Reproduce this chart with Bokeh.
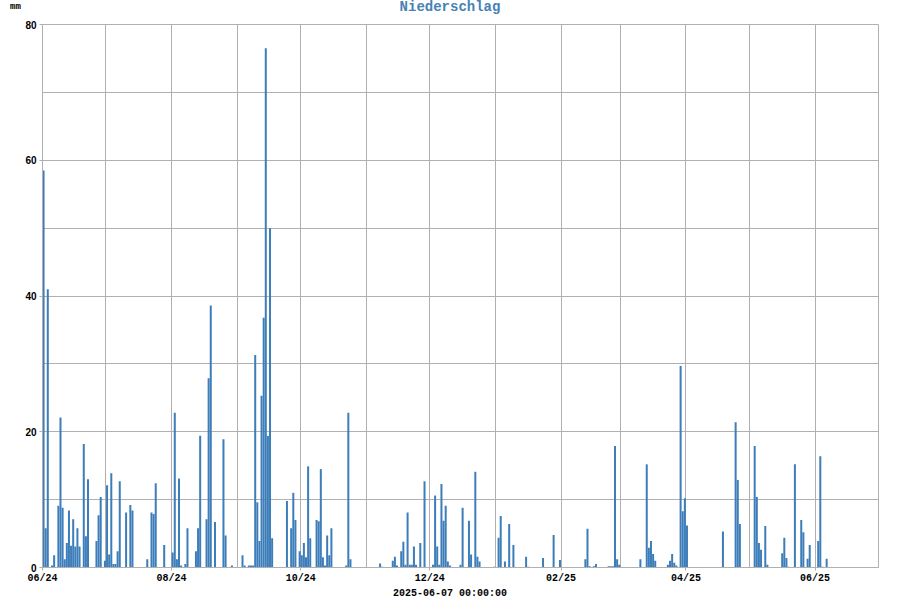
import pandas as pd
from bokeh.plotting import figure
from bokeh.layouts import column
from bokeh.models import FixedTicker, ColumnDataSource, DatetimeTickFormatter, Range1d, Div
from bokeh.embed import file_html
from bokeh.resources import INLINE

# ---- data (daily precipitation, mm) ----
dates = [
    "2024-06-01", "2024-06-02", "2024-06-03", "2024-06-05", "2024-06-06", "2024-06-08", "2024-06-09",
    "2024-06-10", "2024-06-11", "2024-06-12", "2024-06-13", "2024-06-14", "2024-06-15", "2024-06-16",
    "2024-06-17", "2024-06-18", "2024-06-20", "2024-06-21", "2024-06-22", "2024-06-26", "2024-06-27",
    "2024-06-28", "2024-06-30", "2024-07-01", "2024-07-02", "2024-07-03", "2024-07-04", "2024-07-05",
    "2024-07-06", "2024-07-07", "2024-07-10", "2024-07-12", "2024-07-13", "2024-07-20", "2024-07-22",
    "2024-07-23", "2024-07-24", "2024-07-28", "2024-08-01", "2024-08-02", "2024-08-03", "2024-08-04",
    "2024-08-05", "2024-08-07", "2024-08-08", "2024-08-12", "2024-08-13", "2024-08-14", "2024-08-17",
    "2024-08-18", "2024-08-19", "2024-08-21", "2024-08-25", "2024-08-26", "2024-08-29", "2024-09-03",
    "2024-09-04", "2024-09-06", "2024-09-07", "2024-09-08", "2024-09-09", "2024-09-10", "2024-09-11",
    "2024-09-12", "2024-09-13", "2024-09-14", "2024-09-15", "2024-09-16", "2024-09-17", "2024-09-24",
    "2024-09-26", "2024-09-27", "2024-09-28", "2024-09-30", "2024-10-01", "2024-10-02", "2024-10-03",
    "2024-10-04", "2024-10-05", "2024-10-08", "2024-10-09", "2024-10-10", "2024-10-11", "2024-10-12",
    "2024-10-13", "2024-10-14", "2024-10-15", "2024-10-22", "2024-10-23", "2024-10-24", "2024-11-07",
    "2024-11-08", "2024-11-13", "2024-11-14", "2024-11-15", "2024-11-17", "2024-11-18", "2024-11-19",
    "2024-11-20", "2024-11-21", "2024-11-22", "2024-11-23", "2024-11-24", "2024-11-26", "2024-11-28",
    "2024-12-02", "2024-12-03", "2024-12-04", "2024-12-05", "2024-12-06", "2024-12-07", "2024-12-08",
    "2024-12-09", "2024-12-10", "2024-12-15", "2024-12-16", "2024-12-19", "2024-12-20", "2024-12-22",
    "2024-12-23", "2024-12-24", "2024-12-31", "2025-01-02", "2025-01-03", "2025-01-05", "2025-01-07",
    "2025-01-09", "2025-01-15", "2025-01-16", "2025-01-23", "2025-01-28", "2025-01-31", "2025-02-12",
    "2025-02-13", "2025-02-14", "2025-02-16", "2025-02-17", "2025-02-23", "2025-02-24", "2025-02-25",
    "2025-02-26", "2025-02-27", "2025-02-28", "2025-03-10", "2025-03-13", "2025-03-14", "2025-03-15",
    "2025-03-16", "2025-03-17", "2025-03-23", "2025-03-24", "2025-03-25", "2025-03-26", "2025-03-27",
    "2025-03-29", "2025-03-30", "2025-03-31", "2025-04-01", "2025-04-18", "2025-04-24", "2025-04-25",
    "2025-04-26", "2025-05-03", "2025-05-04", "2025-05-05", "2025-05-06", "2025-05-08", "2025-05-09",
    "2025-05-16", "2025-05-17", "2025-05-18", "2025-05-19", "2025-05-22", "2025-05-25", "2025-05-26",
    "2025-05-28", "2025-05-29", "2025-06-02", "2025-06-03", "2025-06-04", "2025-06-06",
]
rain_mm = [
    58.5, 5.8, 41.0, 0.3, 1.8, 9.1, 22.1,
    8.8, 1.2, 3.6, 8.4, 3.2, 7.1, 3.1,
    5.8, 3.1, 18.2, 4.6, 13.0, 3.9, 7.7,
    10.4, 1.0, 12.1, 1.9, 13.9, 0.5, 0.5,
    2.4, 12.7, 8.1, 9.2, 8.4, 1.2, 8.1,
    7.9, 12.4, 3.3, 2.2, 22.8, 1.2, 13.1,
    0.3, 0.5, 5.8, 2.4, 5.8, 19.4, 7.1,
    27.9, 38.6, 6.7, 18.9, 4.7, 0.3, 1.8,
    0.3, 0.3, 0.3, 0.3, 31.3, 9.6, 3.9,
    25.3, 36.8, 76.5, 19.4, 50.0, 4.3, 9.8,
    5.8, 11.0, 7.0, 2.4, 1.8, 3.6, 1.5,
    14.9, 4.3, 7.0, 6.8, 14.5, 1.5, 0.3,
    4.7, 1.8, 5.8, 0.3, 22.8, 1.2, 0.6,
    0.1, 1.0, 1.6, 0.3, 2.4, 3.8, 0.4,
    8.1, 0.4, 0.4, 3.1, 0.4, 3.6, 12.7,
    0.4, 10.6, 3.1, 0.4, 12.3, 6.9, 9.1,
    0.9, 0.3, 0.4, 8.8, 6.9, 1.9, 14.1,
    1.6, 0.9, 0.1, 4.4, 7.6, 0.9, 6.4,
    3.3, 1.6, 0.1, 1.4, 4.8, 1.1, 1.2,
    5.7, 0.2, 0.2, 0.5, 0.2, 0.2, 0.2,
    17.9, 1.2, 0.4, 1.2, 15.2, 2.9, 3.9,
    2.0, 1.0, 0.4, 1.0, 2.0, 0.7, 0.3,
    29.7, 8.3, 10.2, 6.2, 5.3, 21.4, 12.9,
    6.4, 17.9, 10.4, 3.6, 2.6, 6.1, 0.4,
    2.1, 4.4, 1.4, 0.1, 15.2, 7.0, 5.2,
    1.3, 3.3, 3.9, 16.4, 0.1, 1.3,
]
y_ticks = [0, 20, 40, 60, 80]
y_grid = [10, 20, 30, 40, 50, 60, 70, 80]
x_start, x_end = "2024-06-01", "2025-07-01"
title_text = "Niederschlag"
unit_text = "mm"
x_label = "2025-06-07 00:00:00"

DAY = 86400000
t = pd.to_datetime(dates) + pd.Timedelta(hours=12)
src = ColumnDataSource(dict(x=t, top=rain_mm))

month_starts = pd.date_range(x_start, x_end, freq="MS")
month_ms = [int(m.value // 10**6) for m in month_starts]
label_ms = month_ms[::2]

W = 892
HEAD_H = 18
FOOT_H = 14
H = 600 - HEAD_H - FOOT_H

header = Div(
    text=(
        '<div style="position:relative;width:%dpx;height:%dpx;'
        'font-family:\'Liberation Mono\',monospace;font-weight:bold;">'
        '<span style="position:absolute;left:10px;top:3px;font-size:9px;line-height:9px;color:#000;">%s</span>'
        '<span style="position:absolute;left:0;top:0;width:900px;text-align:center;'
        'font-size:14px;line-height:15px;color:#4682b4;">%s</span>'
        '</div>'
    ) % (W, HEAD_H, unit_text, title_text),
    width=W, height=HEAD_H, margin=0,
)

footer = Div(
    text=(
        '<div style="position:relative;width:%dpx;height:%dpx;'
        'font-family:\'Liberation Mono\',monospace;font-weight:bold;">'
        '<span style="position:absolute;left:0;top:2px;width:900px;text-align:center;'
        'font-size:10px;line-height:12px;color:#000;">%s</span>'
        '</div>'
    ) % (W, FOOT_H, x_label),
    width=W, height=FOOT_H, margin=0,
)

p = figure(width=W, height=H, x_axis_type="datetime", output_backend="svg",
           toolbar_location=None, title=None,
           x_range=Range1d(pd.Timestamp(x_start), pd.Timestamp(x_end)),
           y_range=Range1d(0, 80),
           min_border_left=42, min_border_right=14, min_border_top=6, min_border_bottom=19)
p.margin = 0

p.vbar(x="x", top="top", bottom=0, width=DAY * 0.95, source=src,
       fill_color="#3d7eba", line_color=None)

p.background_fill_color = "white"
p.border_fill_color = "white"
p.outline_line_color = "#b0b0b0"
p.outline_line_width = 1

p.xgrid.ticker = FixedTicker(ticks=month_ms)
p.ygrid.ticker = FixedTicker(ticks=y_grid)
for g in (p.xgrid, p.ygrid):
    g.grid_line_color = "#b0b0b0"
    g.grid_line_width = 1
    g.grid_line_alpha = 1.0

p.xaxis.ticker = FixedTicker(ticks=label_ms)
p.xaxis.formatter = DatetimeTickFormatter(days="%m/%y", months="%m/%y", years="%m/%y", hours="%m/%y")
p.yaxis.ticker = FixedTicker(ticks=y_ticks)
for ax in (p.xaxis, p.yaxis):
    ax.axis_line_color = "#b0b0b0"
    ax.major_tick_line_color = "#b0b0b0"
    ax.major_tick_out = 3
    ax.major_tick_in = 0
    ax.minor_tick_line_color = None
    ax.major_label_text_font = "Liberation Mono"
    ax.major_label_text_font_style = "bold"
    ax.major_label_text_font_size = "10px"
    ax.major_label_text_color = "black"
    ax.major_label_standoff = 2
p.yaxis.major_label_text_font = "Liberation Sans"
p.yaxis.major_label_standoff = 3

layout = column(header, p, footer, spacing=0)
open("out.html", "w").write(file_html(layout, INLINE))
